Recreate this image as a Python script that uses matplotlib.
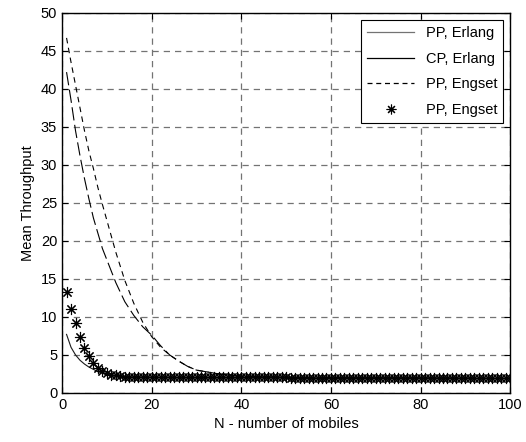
import matplotlib
matplotlib.use('Agg')
import matplotlib.pyplot as plt
from matplotlib.lines import Line2D
import numpy as np

plt.rcParams['font.family'] = ['Liberation Sans', 'DejaVu Sans']

# values
x_lines = [1, 2, 3, 4, 5, 6, 7, 8, 9, 10, 12, 14, 16, 18, 20, 22, 24, 26, 28, 30, 35, 40, 50, 60, 70, 80, 90, 100]
pp_engset_line = [46.7, 43.5, 40.5, 37.5, 34.5, 31.8, 29.5, 27.0, 24.8, 22.7, 18.5, 14.8, 11.8, 9.3, 7.4, 6.0, 5.0,
                  4.2, 3.5, 3.0, 2.5, 2.2, 2.05, 2.0, 2.0, 1.95, 1.95, 1.9]
cp_erlang = [42.2, 38.5, 34.5, 31.2, 28.2, 25.5, 23.0, 21.0, 19.0, 17.5, 14.5, 12.0, 10.2, 8.7, 7.6, 6.2, 5.0,
             4.2, 3.5, 3.0, 2.5, 2.2, 2.05, 2.0, 2.0, 1.95, 1.95, 1.9]
pp_erlang = [7.7, 6.0, 5.0, 4.3, 3.8, 3.4, 3.1, 2.8, 2.6, 2.4, 2.2, 2.15, 2.1, 2.1, 2.05, 2.05, 2.05,
             2.0, 2.0, 2.0, 2.0, 2.0, 2.0, 1.95, 1.95, 1.95, 1.9, 1.9]

x_stars = list(range(1, 101))
pp_engset_stars = ([13.3, 11.1, 9.2, 7.4, 5.9, 4.9, 3.9, 3.3, 2.9, 2.6, 2.4, 2.3, 2.2, 2.15, 2.1]
                   + [2.1] * 15 + [2.05] * 20 + [2.0] * 25 + [1.95] * 25)

labels = ['PP, Erlang', 'CP, Erlang', 'PP, Engset', 'PP, Engset']

fig = plt.figure(figsize=(5.26, 4.42), dpi=100)
ax = fig.add_axes([0.118, 0.111, 0.852, 0.860])

ax.plot(x_lines, pp_erlang, color='0.1', lw=0.8)
ax.plot(x_lines, cp_erlang, color='k', lw=0.8, linestyle=(0, (12, 4)))
ax.plot(x_lines, pp_engset_line, color='k', lw=0.8, linestyle=(0, (5, 4)))
ax.plot(x_stars, pp_engset_stars, linestyle='none', marker=(8, 2, 0), markersize=8,
        markeredgewidth=0.8, color='k')

ax.set_xlim(0, 100)
ax.set_ylim(0, 50)
ax.set_xticks(np.arange(0, 101, 20))
ax.set_yticks(np.arange(0, 51, 5))
ax.grid(True, color='0.45', linestyle=(0, (5, 4)), linewidth=0.9)
ax.tick_params(direction='in', top=True, right=True, length=4, labelsize=10.5)
for s in ax.spines.values():
    s.set_linewidth(1.0)
ax.set_xlabel('N - number of mobiles', fontsize=10.5)
ax.set_ylabel('Mean Throughput', fontsize=10.5)

handles = [Line2D([], [], color='0.45', lw=0.9),
           Line2D([], [], color='k', lw=0.9),
           Line2D([], [], color='k', lw=0.9, linestyle=(0, (4, 3))),
           Line2D([], [], color='k', linestyle='none', marker=(8, 2, 0), markersize=7, markeredgewidth=0.8)]
leg = ax.legend(handles, labels, loc='upper right', fontsize=10.5, fancybox=False, framealpha=1,
                edgecolor='k', handlelength=3.2, borderaxespad=0.5, labelspacing=0.8)
leg.get_frame().set_linewidth(0.8)

fig.savefig('out.png', dpi=100)
